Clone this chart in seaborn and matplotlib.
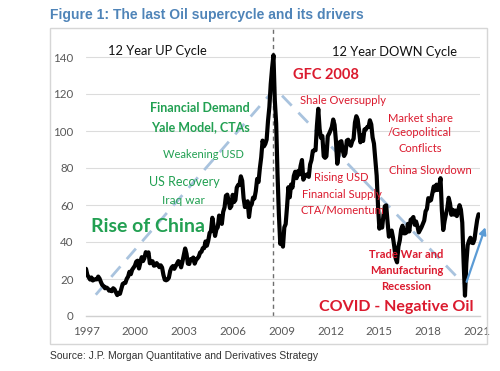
import numpy as np
import pandas as pd
import matplotlib
matplotlib.use("Agg")
import matplotlib.pyplot as plt
from matplotlib.patches import Rectangle
import seaborn as sns

# ---- data (monthly oil price, $/bbl) ----
p1997 = [25.5, 22.2, 21.0, 19.7, 20.8, 19.2, 19.6, 19.9, 19.8, 21.3, 20.2, 18.3]
p1998 = [16.7, 16.1, 15.0, 15.4, 14.9, 13.7, 14.1, 13.4, 15.0, 14.4, 12.9, 11.3]
p1999 = [12.5, 12.0, 14.7, 17.3, 17.8, 17.9, 20.1, 21.3, 23.9, 22.6, 25.0, 26.1]
p2000 = [27.2, 29.4, 29.9, 25.7, 28.8, 31.8, 29.7, 31.3, 34.5, 33.1, 34.4, 28.5]
p2001 = [29.6, 29.6, 27.2, 27.4, 28.6, 27.6, 26.4, 27.4, 26.2, 22.2, 19.6, 19.3]
p2002 = [19.7, 20.7, 24.4, 26.2, 27.0, 25.5, 26.9, 28.4, 29.7, 28.9, 26.3, 29.4]
p2003 = [32.9, 36.5, 33.6, 28.3, 28.1, 30.7, 30.8, 31.6, 28.3, 30.3, 31.1, 32.1]
p2004 = [34.3, 34.7, 36.7, 36.7, 40.3, 38.0, 40.7, 44.9, 45.9, 53.1, 48.5, 43.3]
p2005 = [46.8, 48.0, 54.3, 53.0, 49.8, 56.3, 58.7, 65.0, 65.6, 62.4, 58.3, 59.4]
p2006 = [65.5, 61.6, 62.7, 69.4, 70.8, 70.9, 75.5, 73.1, 63.8, 58.9, 59.1, 62.0]
p2007 = [53.5, 59.3, 60.4, 64.0, 63.5, 67.5, 74.1, 72.4, 79.9, 85.8, 94.8, 91.7]
p2008 = [93.0, 95.4, 105.5, 113.0, 125.4, 134.0, 141.0, 116.7, 104.1, 76.6, 55.0, 39.0]
p2009 = [41.7, 37.5, 47.9, 49.7, 59.0, 69.6, 64.2, 71.1, 69.4, 75.7, 78.0, 74.5]
p2010 = [78.3, 76.4, 81.2, 84.3, 73.7, 75.3, 76.3, 76.6, 75.2, 81.9, 84.3, 89.2]
p2011 = [89.6, 89.6, 102.9, 112.0, 100.9, 96.3, 97.3, 86.3, 85.5, 86.3, 97.2, 98.6]
p2012 = [100.3, 102.2, 106.2, 103.3, 94.7, 82.3, 87.9, 94.1, 94.5, 89.5, 86.5, 87.9]
p2013 = [94.8, 95.3, 92.9, 92.0, 94.5, 95.8, 104.6, 108.0, 106.3, 100.5, 93.9, 97.6]
p2014 = [94.6, 100.8, 100.8, 102.1, 102.2, 105.8, 103.6, 96.5, 93.2, 84.4, 75.8, 59.3]
p2015 = [47.2, 50.6, 47.8, 54.5, 59.3, 59.8, 50.9, 42.9, 45.5, 46.2, 42.4, 37.2]
p2016 = [31.0, 29.0, 37.5, 40.8, 46.7, 48.8, 44.7, 44.7, 45.2, 49.8, 45.7, 52.0]
p2017 = [52.5, 53.5, 49.3, 51.1, 48.5, 45.2, 46.6, 48.0, 49.8, 51.6, 56.6, 57.9]
p2018 = [63.7, 62.2, 62.7, 66.3, 70.0, 67.9, 71.0, 68.1, 70.2, 74.5, 57.0, 46.5]
p2019 = [51.4, 55.0, 58.2, 63.9, 60.8, 54.7, 57.4, 54.8, 57.0, 54.0, 57.0, 59.9]
p2020 = [57.5, 50.5, 29.2, 11.0, 28.6, 38.3, 40.7, 42.3, 39.6, 39.4, 41.4, 47.0]
p2021 = [52.0, 55.0]

yearly = [p1997, p1998, p1999, p2000, p2001, p2002, p2003, p2004, p2005,
          p2006, p2007, p2008, p2009, p2010, p2011, p2012, p2013, p2014,
          p2015, p2016, p2017, p2018, p2019, p2020, p2021]
dates, prices = [], []
for i, vals in enumerate(yearly):
    for m, v in enumerate(vals):
        dates.append(1997 + i + m / 12)
        prices.append(v)
df = pd.DataFrame({"year": dates, "price": prices})

# cycle trend (dashed) and recovery arrow
trend_x = [1997.6, 2008.6, 2020.1]
trend_y = [11.5, 123.0, 18.0]
arrow_x = [2020.35, 2021.5]
arrow_y = [18.5, 48.0]
peak_year = 2008.45

xticks = [1997, 2000, 2003, 2006, 2009, 2012, 2015, 2018, 2021]
yticks = [0, 20, 40, 60, 80, 100, 120, 140]

# ---- style ----
sns.set_theme(style="white")
plt.rcParams["font.family"] = ["Lato", "DejaVu Sans"]

fig = plt.figure(figsize=(5.0, 3.71), dpi=100)
W, H = 500, 371
ax = fig.add_axes([86 / W, (H - 316) / H, (480 - 86) / W, (316 - 28) / H])

def X(px):
    return 1997 + (px - 86) / 16.3

def Y(py):
    return (316 - py) / 1.85

ax.set_xlim(1997, X(480))
ax.set_ylim(0, Y(28))

for s in ["left", "right", "top"]:
    ax.spines[s].set_visible(False)
ax.spines["bottom"].set_color("#d0d0d0")
ax.spines["bottom"].set_linewidth(1.0)
ax.set_yticks(yticks)
ax.set_xticks(xticks)
ax.set_xticklabels([str(t) for t in xticks])
ax.tick_params(axis="both", length=0, labelsize=8.3, labelcolor="#595959")
ax.tick_params(axis="y", pad=9)
ax.tick_params(axis="x", pad=7)
ax.yaxis.grid(True, color="#dcdcdc", linewidth=0.8)
ax.xaxis.grid(False)
ax.set_axisbelow(True)

# trend lines
ax.plot(trend_x, trend_y, color="#a9c3de", linewidth=2.0, dashes=(5, 3.5), zorder=2)
ax.axvline(peak_year, color="#6e6e6e", linewidth=1.0, linestyle=(0, (3, 2.5)), zorder=2)

sns.lineplot(data=df, x="year", y="price", color="black", linewidth=3.0, ax=ax, zorder=3)
ax.set_xlabel("")
ax.set_ylabel("")

ax.annotate("", xy=(arrow_x[1], arrow_y[1]), xytext=(arrow_x[0], arrow_y[0]),
            arrowprops=dict(arrowstyle="-|>", color="#5b9bd5", lw=1.6,
                            mutation_scale=10, shrinkA=0, shrinkB=0),
            annotation_clip=False, zorder=4)

GREEN = "#22a052"
RED = "#db1a2e"

def lab(text, px, py, color, size, weight="normal"):
    ax.text(X(px), Y(py), text, color=color, fontsize=size, fontweight=weight,
            ha="center", va="center", zorder=5, clip_on=False)

lab("12 Year UP Cycle", 157, 51, "#111111", 9.3)
lab("12 Year DOWN Cycle", 394, 52, "#111111", 9.3)

lab("Financial Demand", 200, 108, GREEN, 9, "bold")
lab("Yale Model, CTAs", 200, 127, GREEN, 9, "bold")
lab("Weakening USD", 203, 154, GREEN, 8)
lab("US Recovery", 184, 182, GREEN, 9)
lab("Iraq war", 183, 200, GREEN, 8.5)
lab("Rise of China", 148, 227, GREEN, 14, "bold")

lab("GFC 2008", 326, 75, RED, 10.5, "bold")
lab("Shale Oversupply", 343, 100, RED, 8)
lab("Market share", 420, 118, RED, 8)
lab("/Geopolitical", 420, 133, RED, 8)
lab("Conflicts", 420, 148, RED, 8)
lab("China Slowdown", 430, 170, RED, 8)
lab("Rising USD", 341, 177, RED, 8)
lab("Financial Supply", 342, 194, RED, 8)
lab("CTA/Momentum", 342, 210, RED, 8)
lab("Trade War and", 406, 255, RED, 8, "bold")
lab("Manufacturing", 407, 271, RED, 8, "bold")
lab("Recession", 406, 287, RED, 8, "bold")
lab("COVID - Negative Oil", 396, 307, RED, 11.5, "bold")

# outer frame
fig.patches.append(Rectangle((50 / W, (H - 344) / H), (487 - 50) / W, (344 - 28) / H,
                             transform=fig.transFigure, fill=False,
                             edgecolor="#d6d6d6", linewidth=1.0))

narrow = ["Liberation Sans Narrow", "Liberation Sans", "DejaVu Sans"]
fig.text(50 / W, 1 - 15 / H, "Figure 1: The last Oil supercycle and its drivers",
         family=narrow, fontsize=10, fontweight="bold", color="#4f84b8",
         ha="left", va="center")
fig.text(50 / W, 1 - 356 / H, "Source: J.P. Morgan Quantitative and Derivatives Strategy",
         family=narrow, fontsize=7.5, color="#333333", ha="left", va="center")

fig.savefig("out.png", dpi=100)
